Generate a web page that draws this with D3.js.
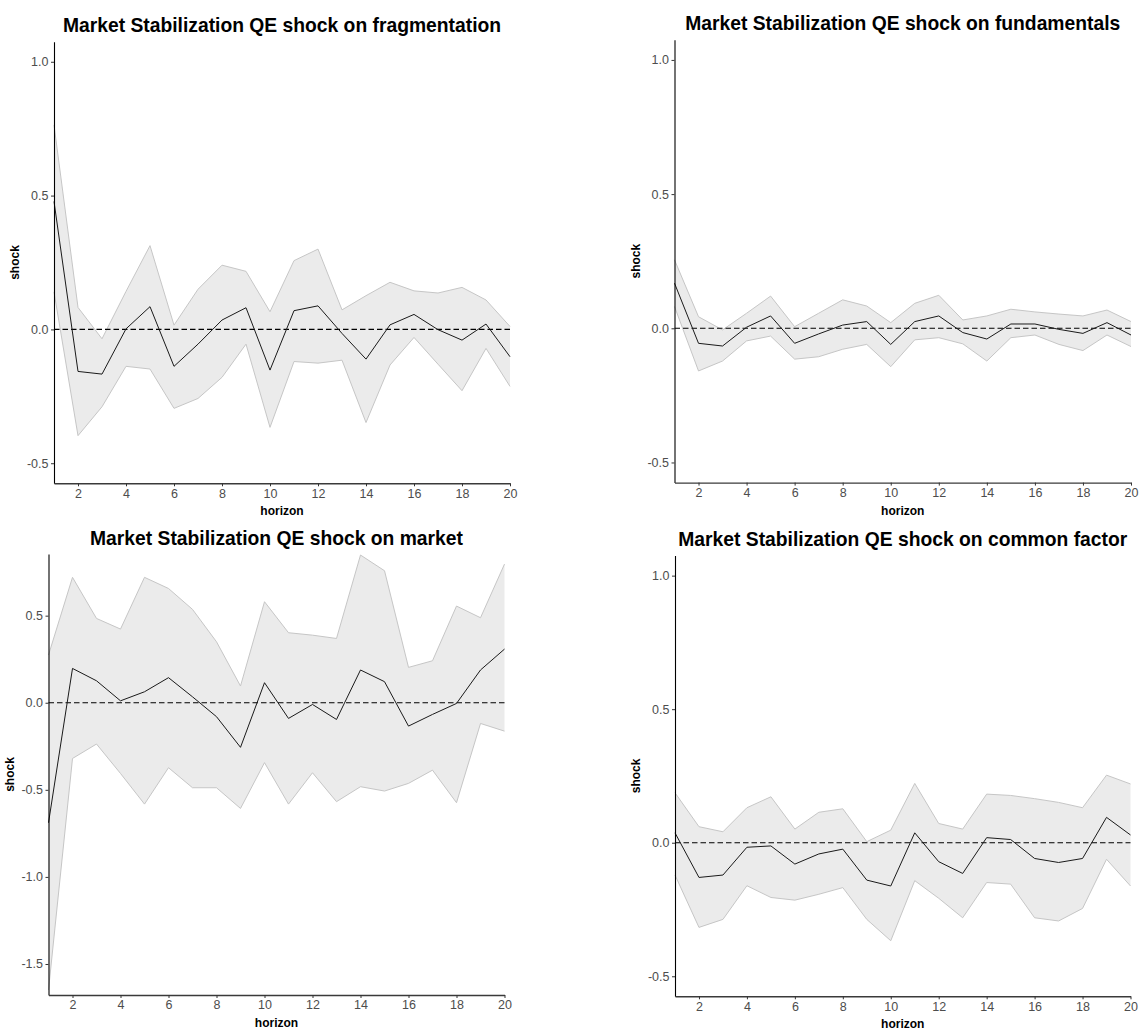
<!DOCTYPE html>
<html>
<head>
<meta charset="utf-8">
<script src="https://cdn.jsdelivr.net/npm/d3@7"></script>
<style>
  body { margin: 0; background: #ffffff; }
  text { font-family: "Liberation Sans", Arial, sans-serif; }
</style>
</head>
<body>
<svg id="chart" width="1139" height="1030"></svg>
<script>
// Impulse responses over 20 horizons: median response with lower / upper bands
const horizon = [1, 2, 3, 4, 5, 6, 7, 8, 9, 10, 11, 12, 13, 14, 15, 16, 17, 18, 19, 20];

const fragMid = [0.478, -0.157, -0.167, 0.002, 0.085, -0.138, -0.055, 0.035, 0.081, -0.152,
                 0.070, 0.088, -0.015, -0.111, 0.017, 0.056, -0.001, -0.040, 0.020, -0.102];
const fragLo  = [0.140, -0.397, -0.289, -0.138, -0.148, -0.295, -0.258, -0.179, -0.055, -0.366,
                 -0.120, -0.126, -0.115, -0.348, -0.133, -0.030, -0.130, -0.229, -0.071, -0.213];
const fragHi  = [0.764, 0.082, -0.035, 0.142, 0.313, 0.016, 0.150, 0.240, 0.217, 0.066,
                 0.257, 0.300, 0.073, 0.126, 0.176, 0.144, 0.136, 0.157, 0.110, 0.011];

const fundMid = [0.168, -0.056, -0.066, 0.004, 0.046, -0.056, -0.021, 0.012, 0.025, -0.060,
                 0.025, 0.046, -0.016, -0.040, 0.016, 0.016, -0.004, -0.019, 0.021, -0.025];
const fundLo  = [0.081, -0.159, -0.122, -0.047, -0.029, -0.115, -0.106, -0.078, -0.060, -0.143,
                 -0.043, -0.035, -0.058, -0.122, -0.035, -0.025, -0.060, -0.083, -0.025, -0.068];
const fundHi  = [0.255, 0.043, -0.006, 0.056, 0.120, 0.006, 0.056, 0.106, 0.083, 0.021,
                 0.093, 0.123, 0.031, 0.046, 0.071, 0.061, 0.053, 0.046, 0.068, 0.025];

const mktMid = [-0.689, 0.197, 0.126, 0.011, 0.063, 0.144, 0.034, -0.080, -0.256, 0.115,
                -0.090, -0.010, -0.096, 0.188, 0.121, -0.134, -0.067, -0.004, 0.188, 0.308];
const mktLo  = [-1.649, -0.320, -0.237, -0.406, -0.582, -0.373, -0.488, -0.488, -0.607, -0.344,
                -0.582, -0.402, -0.568, -0.482, -0.507, -0.463, -0.387, -0.574, -0.119, -0.163];
const mktHi  = [0.274, 0.720, 0.484, 0.423, 0.720, 0.656, 0.536, 0.350, 0.096, 0.580,
                0.402, 0.388, 0.369, 0.848, 0.758, 0.203, 0.241, 0.555, 0.488, 0.796];

const commMid = [0.037, -0.130, -0.121, -0.017, -0.012, -0.080, -0.042, -0.024, -0.140, -0.162,
                 0.037, -0.071, -0.115, 0.019, 0.012, -0.059, -0.074, -0.059, 0.095, 0.029];
const commLo  = [-0.121, -0.317, -0.287, -0.161, -0.205, -0.215, -0.193, -0.168, -0.287, -0.367,
                 -0.142, -0.208, -0.281, -0.149, -0.155, -0.281, -0.293, -0.246, -0.062, -0.162];
const commHi  = [0.187, 0.060, 0.041, 0.131, 0.172, 0.051, 0.114, 0.127, 0.004, 0.047,
                 0.222, 0.072, 0.051, 0.182, 0.177, 0.165, 0.151, 0.131, 0.253, 0.220];

// Axis ticks
const xTicks = [2, 4, 6, 8, 10, 12, 14, 16, 18, 20];
const yTicksUnit = [-0.5, 0.0, 0.5, 1.0];
const yTicksMarket = [-1.5, -1.0, -0.5, 0.0, 0.5];

const panels = [
  { title: "Market Stabilization QE shock on fragmentation", mid: fragMid, lo: fragLo, hi: fragHi,
    yDomain: [-0.575, 1.075], yTicks: yTicksUnit,
    box: { left: 54, right: 510, top: 41.7, bottom: 483.3 } },
  { title: "Market Stabilization QE shock on fundamentals", mid: fundMid, lo: fundLo, hi: fundHi,
    yDomain: [-0.575, 1.075], yTicks: yTicksUnit,
    box: { left: 674.5, right: 1131, top: 39.8, bottom: 482.6 } },
  { title: "Market Stabilization QE shock on market", mid: mktMid, lo: mktLo, hi: mktHi,
    yDomain: [-1.678, 0.854], yTicks: yTicksMarket,
    box: { left: 48.5, right: 504.5, top: 554, bottom: 995 } },
  { title: "Market Stabilization QE shock on common factor", mid: commMid, lo: commLo, hi: commHi,
    yDomain: [-0.575, 1.075], yTicks: yTicksUnit,
    box: { left: 675, right: 1130.5, top: 555.6, bottom: 996.3 } }
];

const svg = d3.select("#chart");
const fmt = v => v.toFixed(1);

panels.forEach(p => {
  const b = p.box;
  const x = d3.scaleLinear().domain([1, 20]).range([b.left, b.right]);
  const y = d3.scaleLinear().domain(p.yDomain).range([b.bottom, b.top]);
  const g = svg.append("g");

  const rows = horizon.map((h, i) => ({ h, mid: p.mid[i], lo: p.lo[i], hi: p.hi[i] }));

  // Confidence band
  g.append("path")
    .datum(rows)
    .attr("fill", "#ebebeb")
    .attr("d", d3.area().x(d => x(d.h)).y0(d => y(d.lo)).y1(d => y(d.hi)));
  ["lo", "hi"].forEach(k => {
    g.append("path")
      .datum(rows)
      .attr("fill", "none")
      .attr("stroke", "#c6c6c6")
      .attr("stroke-width", 1)
      .attr("d", d3.line().x(d => x(d.h)).y(d => y(d[k])));
  });

  // Zero reference line
  g.append("line")
    .attr("x1", b.left).attr("x2", b.right)
    .attr("y1", y(0)).attr("y2", y(0))
    .attr("stroke", "#000")
    .attr("stroke-width", 1.1)
    .attr("stroke-dasharray", "5.5,3");

  // Median response
  g.append("path")
    .datum(rows)
    .attr("fill", "none")
    .attr("stroke", "#1a1a1a")
    .attr("stroke-width", 1)
    .attr("d", d3.line().x(d => x(d.h)).y(d => y(d.mid)));

  // Axes
  const yAxis = g.append("g")
    .attr("transform", `translate(${b.left},0)`)
    .call(d3.axisLeft(y).tickValues(p.yTicks).tickFormat(fmt).tickSize(3).tickSizeOuter(0).tickPadding(2.5));
  yAxis.select(".domain").attr("stroke", "#000").attr("stroke-width", 1.1);
  yAxis.selectAll(".tick line").attr("stroke", "#333");
  yAxis.selectAll(".tick text").attr("fill", "#4d4d4d").style("font-size", "12.5px")
    .style("font-family", "'Liberation Sans', Arial, sans-serif");

  const xAxis = g.append("g")
    .attr("transform", `translate(0,${b.bottom})`)
    .call(d3.axisBottom(x).tickValues(xTicks).tickFormat(d3.format("d")).tickSize(3).tickSizeOuter(0).tickPadding(2.5));
  xAxis.select(".domain").attr("stroke", "#3a3a3a").attr("stroke-width", 1.4);
  xAxis.selectAll(".tick line").attr("stroke", "#333");
  xAxis.selectAll(".tick text").attr("fill", "#4d4d4d").style("font-size", "12.5px")
    .style("font-family", "'Liberation Sans', Arial, sans-serif");

  // Titles and axis labels
  const cx = (b.left + b.right) / 2;
  g.append("text")
    .attr("x", cx).attr("y", b.top - 9.4)
    .attr("text-anchor", "middle")
    .style("font-size", "19.3px").style("font-weight", "bold")
    .attr("fill", "#000")
    .text(p.title);

  g.append("text")
    .attr("x", cx).attr("y", b.bottom + 32)
    .attr("text-anchor", "middle")
    .style("font-size", "12px").style("font-weight", "bold")
    .attr("fill", "#000")
    .text("horizon");

  const ly = (b.top + b.bottom) / 2;
  const lx = b.left - 35;
  g.append("text")
    .attr("transform", `translate(${lx},${ly}) rotate(-90)`)
    .attr("text-anchor", "middle")
    .style("font-size", "12px").style("font-weight", "bold")
    .attr("fill", "#000")
    .text("shock");
});
</script>
</body>
</html>
